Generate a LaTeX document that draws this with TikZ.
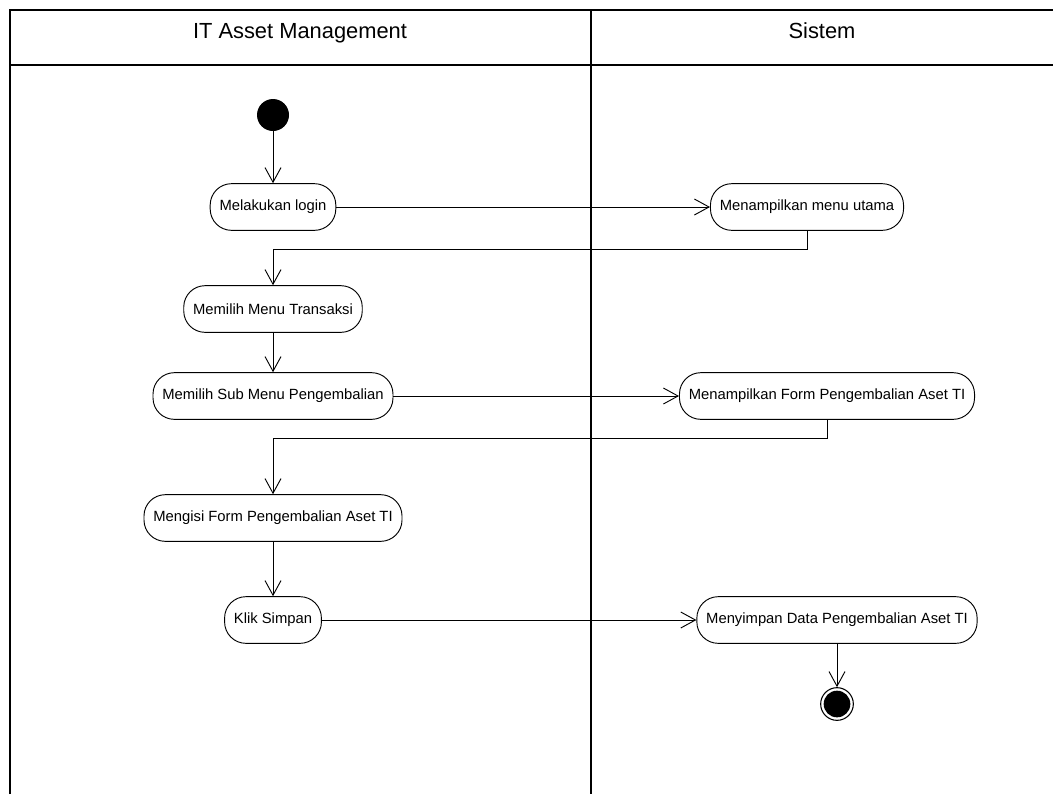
\documentclass[tikz,border=0pt]{standalone}
\usepackage{fontspec}
\setmainfont{Liberation Sans}
\usetikzlibrary{arrows.meta}

\begin{document}
\begin{tikzpicture}[x=0.75pt, y=-0.75pt, >={Straight Barb[length=11pt,width=12pt]},
    lane/.style={line width=1.2pt},
    aksi/.style={draw, line width=0.7pt, rectangle, rounded corners=16pt, minimum height=35pt,
        inner xsep=7pt, font=\fontsize{11.1}{13}\selectfont},
    judul/.style={anchor=base, font=\fontsize{16.4}{19}\selectfont},
    alur/.style={->, line width=0.7pt}]
    % Batas gambar
    \useasboundingbox (0,0) rectangle (1053,794);

    % 1. Swimlane
    \draw[lane] (10,794) -- (10,10) -- (1053,10);
    \draw[lane] (10,65) -- (1053,65);
    \draw[lane] (591,10) -- (591,794);
    \node[judul] (hIT) at (300,38) {IT Asset Management};
    \node[judul] (hSis) at (822,38) {Sistem};

    % 2. Aktivitas
    \node[circle, fill=black, minimum size=24pt, inner sep=0pt] (mulai) at (273,115) {};
    \node[aksi] (login) at (273,207) {Melakukan login};
    \node[aksi] (menu) at (807,207) {Menampilkan menu utama};
    \node[aksi] (trans) at (273,309) {Memilih Menu Transaksi};
    \node[aksi] (sub) at (273,396) {Memilih Sub Menu Pengembalian};
    \node[aksi] (form) at (827,396) {Menampilkan Form Pengembalian Aset TI};
    \node[aksi] (isi) at (273,518) {Mengisi Form Pengembalian Aset TI};
    \node[aksi] (simpan) at (273,620) {Klik Simpan};
    \node[aksi] (data) at (837,620) {Menyimpan Data Pengembalian Aset TI};
    \node[circle, draw, line width=0.8pt, minimum size=24.5pt, inner sep=0pt,
        path picture={\fill (path picture bounding box.center) circle (10pt);}] (selesai) at (837,704) {};

    % 3. Alur
    \draw[alur] (mulai) -- (login);
    \draw[alur] (login) -- (menu);
    \draw[alur] (menu.south) -- ++(0,19) -| (trans.north);
    \draw[alur] (trans) -- (sub);
    \draw[alur] (sub) -- (form);
    \draw[alur] (form.south) -- ++(0,19) -| (isi.north);
    \draw[alur] (isi) -- (simpan);
    \draw[alur] (simpan) -- (data);
    \draw[alur] (data) -- (selesai);

\end{tikzpicture}
\end{document}
